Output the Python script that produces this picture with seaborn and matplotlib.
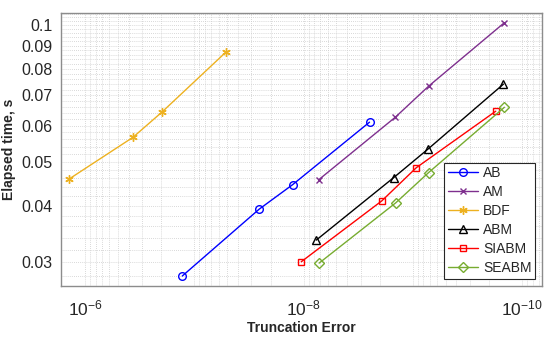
import numpy as np
import pandas as pd
import matplotlib
matplotlib.use("Agg")
import matplotlib.pyplot as plt
import matplotlib.ticker as mticker
import seaborn as sns

# ---- data ----
ab_x = [1.29e-7, 2.55e-8, 1.26e-8, 2.49e-9]
ab_y = [0.0280, 0.0393, 0.0445, 0.0611]
am_x = [7.29e-9, 1.44e-9, 7.18e-10, 1.45e-10]
am_y = [0.0456, 0.0627, 0.0733, 0.1012]
bdf_x = [1.40e-6, 3.64e-7, 1.98e-7, 5.13e-8]
bdf_y = [0.0458, 0.0566, 0.0643, 0.0872]
abm_x = [7.65e-9, 1.50e-9, 7.33e-10, 1.48e-10]
abm_y = [0.0336, 0.0461, 0.0532, 0.0741]
siabm_x = [1.05e-8, 1.92e-9, 9.29e-10, 1.74e-10]
siabm_y = [0.0301, 0.0410, 0.0485, 0.0646]
seabm_x = [7.2e-9, 1.43e-9, 7.18e-10, 1.45e-10]
seabm_y = [0.0299, 0.0406, 0.0473, 0.0659]

names = ["AB", "AM", "BDF", "ABM", "SIABM", "SEABM"]
xs = [ab_x, am_x, bdf_x, abm_x, siabm_x, seabm_x]
ys = [ab_y, am_y, bdf_y, abm_y, siabm_y, seabm_y]
colors = ["#0000ff", "#7e2f8e", "#edb120", "#000000", "#ff0000", "#77ac30"]
markers = ["o", "x", (6, 2, 0), "^", "s", "D"]
msizes = [5.5, 5, 6, 6, 5, 4.8]

y_ticks = [0.03, 0.04, 0.05, 0.06, 0.07, 0.08, 0.09, 0.1]
y_ticklabels = ["0.03", "0.04", "0.05", "0.06", "0.07", "0.08", "0.09", "0.1"]
x_ticks = [1e-6, 1e-8, 1e-10]
x_ticklabels = [r"$10^{-6}$", r"$10^{-8}$", r"$10^{-10}$"]

sns.set_style("white")
plt.rcParams["font.family"] = ["Liberation Sans", "DejaVu Sans"]
plt.rcParams["mathtext.fontset"] = "custom"
plt.rcParams["mathtext.rm"] = "Liberation Sans"
plt.rcParams["mathtext.it"] = "Liberation Sans:italic"
plt.rcParams["mathtext.bf"] = "Liberation Sans:bold"

fig = plt.figure(figsize=(5.5, 3.39), dpi=100)
ax = fig.add_axes([0.111, 0.157, 0.8745, 0.8047])

for n, x, y, c, m, ms in zip(names, xs, ys, colors, markers, msizes):
    df = pd.DataFrame({"x": x, "y": y})
    sns.lineplot(data=df, x="x", y="y", ax=ax, color=c, marker=m, markersize=ms,
                 markerfacecolor="none", markeredgecolor=c, markeredgewidth=1.0,
                 linewidth=1.0, label=n, sort=False)

ax.set_xscale("log")
ax.set_yscale("log")
ax.set_xlim(1.66e-6, 6.56e-11)
ax.set_ylim(0.02665, 0.1063)

ax.xaxis.set_major_locator(mticker.FixedLocator(x_ticks))
ax.xaxis.set_major_formatter(mticker.FixedFormatter(x_ticklabels))
ax.xaxis.set_minor_locator(mticker.LogLocator(base=10, subs=np.arange(1, 10), numticks=30))
ax.xaxis.set_minor_formatter(mticker.NullFormatter())

ax.yaxis.set_major_locator(mticker.FixedLocator(y_ticks))
ax.yaxis.set_major_formatter(mticker.FixedFormatter(y_ticklabels))
ax.yaxis.set_minor_locator(mticker.MultipleLocator(0.002))
ax.yaxis.set_minor_formatter(mticker.NullFormatter())

ax.grid(True, which="both", color="#cdcdcd", linestyle=(0, (1, 1.5)), linewidth=0.6)
ax.tick_params(which="both", length=0, colors="#262626")
ax.tick_params(axis="y", labelsize=11.5, pad=6)
ax.tick_params(axis="x", labelsize=12.5, pad=9)
for s in ax.spines.values():
    s.set_color("#8c8c8c")
    s.set_linewidth(1.0)

ax.set_xlabel("Truncation Error", fontsize=10, fontweight="bold", color="#262626", labelpad=2)
ax.set_ylabel("Elapsed time, s", fontsize=10, fontweight="bold", color="#262626")
ax.yaxis.set_label_coords(-0.094, 0.5)

leg = ax.legend(loc="lower right", fontsize=10, frameon=True, fancybox=False,
                handlelength=2.2, handletextpad=0.35, labelspacing=0.36,
                borderpad=0.25, borderaxespad=0.5, framealpha=1)
leg.get_frame().set_edgecolor("#262626")
leg.get_frame().set_linewidth(0.8)

fig.savefig("out.png", dpi=100)
